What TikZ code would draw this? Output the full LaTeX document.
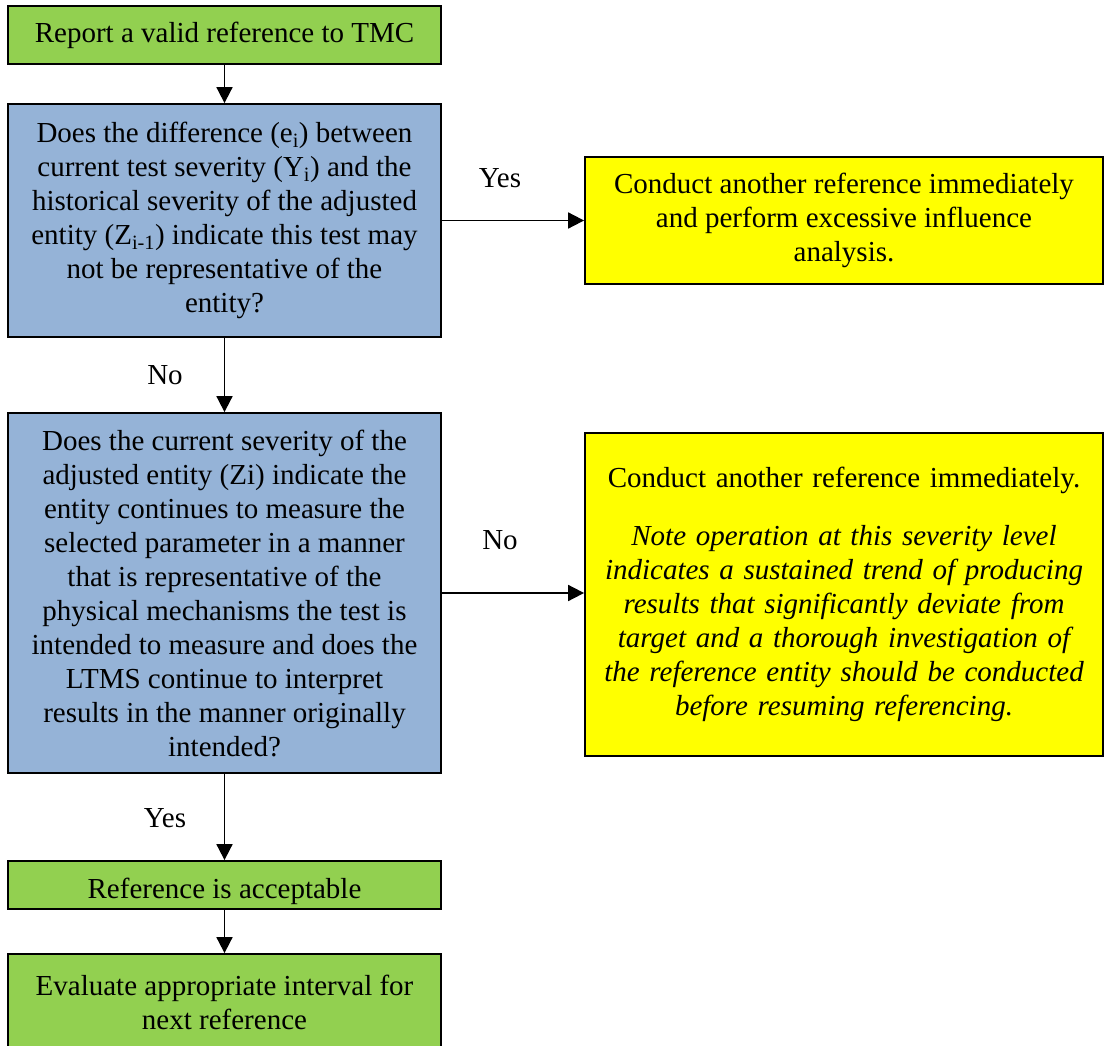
\documentclass[tikz,border=0pt]{standalone}
\usepackage{fontspec}
\setmainfont{Liberation Serif}
\usetikzlibrary{arrows.meta}
\definecolor{boxgreen}{HTML}{92D050}
\definecolor{boxblue}{HTML}{95B3D7}
\definecolor{boxyellow}{HTML}{FFFF00}
\tikzset{
  flowbox/.style={draw=black,line width=1.8pt,inner sep=0pt,align=center,
    font=\fontsize{29}{34}\selectfont},
  greenbox/.style={flowbox,fill=boxgreen,minimum width=433pt},
  bluebox/.style={flowbox,fill=boxblue,minimum width=433pt},
  yellowbox/.style={flowbox,fill=boxyellow,minimum width=518pt},
  flowarrow/.style={line width=1.8pt,-{Triangle[length=16pt,width=16pt]}},
  answer/.style={font=\fontsize{29}{34}\selectfont}
}
\begin{document}
\begin{tikzpicture}[x=1pt,y=-1pt]
  \useasboundingbox (0,0) rectangle (1104,1046);
  \clip (0,0) rectangle (1104,1046); % page edge cuts the last box

  % left column
  \node[greenbox,minimum height=58pt] (report) at (224.5,35)
    {Report a valid reference to TMC};
  \node[bluebox,minimum height=233pt] (diff) at (224.5,220.5)
    {Does the difference (e\textsubscript{i}) between\\
     current test severity (Y\textsubscript{i}) and the\\
     historical severity of the adjusted\\
     entity (Z\textsubscript{i-1}) indicate this test may\\
     not be representative of the\\
     entity?};
  \node[bluebox,minimum height=360pt] (severity) at (224.5,593)
    {Does the current severity of the\\
     adjusted entity (Zi) indicate the\\
     entity continues to measure the\\
     selected parameter in a manner\\
     that is representative of the\\
     physical mechanisms the test is\\
     intended to measure and does the\\
     LTMS continue to interpret\\
     results in the manner originally\\
     intended?};
  \node[greenbox,minimum height=48pt,text height=26pt,text depth=0pt] (accept) at (224.5,885)
    {Reference is acceptable};
  \node[greenbox,minimum height=96pt] (interval) at (224.5,1002)
    {Evaluate appropriate interval for\\
     next reference};

  % right column
  \node[yellowbox,minimum height=127pt] (conductA) at (844,220.5)
    {Conduct another reference immediately\\
     and perform excessive influence\\
     analysis.};
  \node[yellowbox,minimum height=323pt,text width=510pt] (conductB) at (844,594.5)
    {Conduct another reference immediately.\\[24pt]
     \itshape Note operation at this severity level\\
     indicates a sustained trend of producing\\
     results that significantly deviate from\\
     target and a thorough investigation of\\
     the reference entity should be conducted\\
     before resuming referencing.};

  % answers
  \node[answer] (yesA) at (500,178) {Yes};
  \node[answer] (noA)  at (500,540) {No};
  \node[answer] (noB)  at (165,375) {No};
  \node[answer] (yesB) at (165,818) {Yes};

  % connectors
  \draw[flowarrow] (report.south) -- (diff.north);
  \draw[flowarrow] (diff.east) -- (diff.east -| conductA.west);
  \draw[flowarrow] (diff.south) -- (severity.north);
  \draw[flowarrow] (severity.east) -- (severity.east -| conductB.west);
  \draw[flowarrow] (severity.south) -- (accept.north);
  \draw[flowarrow] (accept.south) -- (interval.north);
\end{tikzpicture}
\end{document}
